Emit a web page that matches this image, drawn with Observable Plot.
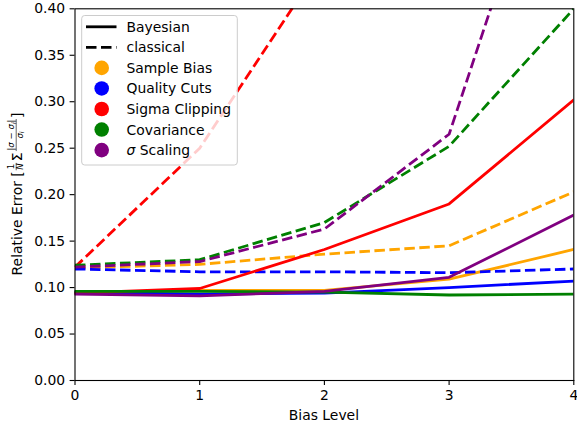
<!DOCTYPE html>
<html>
<head>
<meta charset="utf-8">
<script src="https://cdn.jsdelivr.net/npm/d3@7"></script>
<script src="https://cdn.jsdelivr.net/npm/@observablehq/plot@0.6"></script>
<style>
  html, body { margin: 0; padding: 0; background: white; }
  svg { display: block; }
</style>
</head>
<body>
<div id="chart"></div>
<script>
const biasLevels = [0, 1, 2, 3, 4];
const xTicks = [0, 1, 2, 3, 4];
const yTicks = [0, 0.05, 0.10, 0.15, 0.20, 0.25, 0.30, 0.35, 0.40];
const methods = ["Sample Bias", "Quality Cuts", "Sigma Clipping", "Covariance", "σ Scaling"];
const methodColors = ["orange", "blue", "red", "green", "purple"];
const styleLabels = ["Bayesian", "classical"];

const bayesianSampleBias    = [0.094, 0.097, 0.097, 0.109, 0.141];
const classicalSampleBias   = [0.121, 0.125, 0.136, 0.145, 0.203];
const bayesianQualityCuts   = [0.095, 0.093, 0.094, 0.100, 0.107];
const classicalQualityCuts  = [0.120, 0.117, 0.117, 0.116, 0.120];
const bayesianSigmaClipping = [0.094, 0.099, 0.141, 0.190, 0.302];
const classicalSigmaClipping= [0.122, 0.250, 0.453, 0.700, 1.000];
const bayesianCovariance    = [0.096, 0.096, 0.095, 0.092, 0.093];
const classicalCovariance   = [0.124, 0.130, 0.170, 0.252, 0.400];
const bayesianSigmaScaling  = [0.093, 0.091, 0.096, 0.111, 0.178];
const classicalSigmaScaling = [0.122, 0.128, 0.163, 0.265, 0.670];

const bayesianSeries = [bayesianSampleBias, bayesianQualityCuts, bayesianSigmaClipping, bayesianCovariance, bayesianSigmaScaling];
const classicalSeries = [classicalSampleBias, classicalQualityCuts, classicalSigmaClipping, classicalCovariance, classicalSigmaScaling];

const FONT = "DejaVu Sans";
const FS = 13.9;
const LW = 2.8;
const DASH = "10.5,4.5";

const toRows = (vals) => biasLevels.map((b, i) => ({bias: b, value: vals[i]}));

const lineMarks = [];
methods.forEach((m, i) => {
  lineMarks.push(Plot.line(toRows(bayesianSeries[i]), {x: "bias", y: "value", stroke: methodColors[i], strokeWidth: LW, clip: true, strokeLinejoin: "round"}));
  lineMarks.push(Plot.line(toRows(classicalSeries[i]), {x: "bias", y: "value", stroke: methodColors[i], strokeWidth: LW, strokeDasharray: DASH, strokeLinecap: "butt", clip: true}));
});

const chart = Plot.plot({
  width: 577,
  height: 423,
  marginLeft: 74.5,
  marginRight: 3.7,
  marginTop: 8.3,
  marginBottom: 43,
  style: {fontFamily: FONT, fontSize: FS + "px", background: "white", color: "black"},
  x: {domain: [0, 4], label: null},
  y: {domain: [0, 0.4], label: null},
  marks: [
    ...lineMarks,
    Plot.frame({stroke: "black", strokeWidth: 1.1}),
    Plot.axisX({ticks: xTicks, tickSize: 4.9, tickPadding: 4.9, tickFormat: d => String(d), label: null, strokeWidth: 1.1}),
    Plot.axisY({ticks: yTicks, tickSize: 4.9, tickPadding: 4.9, tickFormat: d3.format(".2f"), label: null, strokeWidth: 1.1})
  ]
});
document.getElementById("chart").appendChild(chart);

const svg = d3.select(chart);

// x axis label
svg.append("text")
  .attr("x", (74.5 + 573.3) / 2).attr("y", 420)
  .attr("text-anchor", "middle")
  .attr("font-family", FONT).attr("font-size", FS)
  .attr("fill", "black")
  .text("Bias Level");

// y axis label with math
const yl = svg.append("g").attr("font-family", FONT).attr("fill", "black").attr("text-anchor", "start");
const inner = yl.append("g");
let cx = 0;
const t1 = inner.append("text").attr("x", cx).attr("y", 0).attr("font-size", FS).text("Relative Error [");
cx += t1.node().getComputedTextLength() + 1;
// fraction 1/N
const fs2 = 8.6;
const n1 = inner.append("text").attr("y", -7.6).attr("font-size", fs2).attr("text-anchor", "middle").text("1");
const d1 = inner.append("text").attr("y", 0.8).attr("font-size", fs2).attr("text-anchor", "middle").attr("font-style", "italic").text("N");
let w1 = Math.max(n1.node().getComputedTextLength(), d1.node().getComputedTextLength()) + 1;
n1.attr("x", cx + w1 / 2); d1.attr("x", cx + w1 / 2);
inner.append("line").attr("x1", cx).attr("x2", cx + w1).attr("y1", -5.8).attr("y2", -5.8).attr("stroke", "black").attr("stroke-width", 0.6);
cx += w1 + 1.5;
const sig = inner.append("text").attr("x", cx).attr("y", 0).attr("font-size", FS).text("Σ");
cx += sig.node().getComputedTextLength() + 1.5;
// fraction |σ−σi| / σi
const n2 = inner.append("text").attr("y", -7.6).attr("font-size", fs2).attr("text-anchor", "middle");
n2.append("tspan").text("|");
n2.append("tspan").attr("font-style", "italic").text("σ");
n2.append("tspan").text(" − ");
n2.append("tspan").attr("font-style", "italic").text("σ");
n2.append("tspan").attr("font-style", "italic").attr("font-size", 6).attr("dy", 1.5).text("i");
n2.append("tspan").attr("dy", -1.5).text("|");
const d2 = inner.append("text").attr("y", 0.8).attr("font-size", fs2).attr("text-anchor", "middle");
d2.append("tspan").attr("font-style", "italic").text("σ");
d2.append("tspan").attr("font-style", "italic").attr("font-size", 6).attr("dy", 1.5).text("i");
let w2 = Math.max(n2.node().getComputedTextLength(), d2.node().getComputedTextLength()) + 1;
n2.attr("x", cx + w2 / 2); d2.attr("x", cx + w2 / 2);
inner.append("line").attr("x1", cx).attr("x2", cx + w2).attr("y1", -5.8).attr("y2", -5.8).attr("stroke", "black").attr("stroke-width", 0.6);
cx += w2 + 1;
const t3 = inner.append("text").attr("x", cx).attr("y", 0).attr("font-size", FS).text("]");
cx += t3.node().getComputedTextLength();
inner.attr("transform", `translate(${-cx / 2},0)`);
yl.attr("transform", `translate(22,194) rotate(-90)`);

// legend
const lg = svg.append("g").attr("font-family", FONT).attr("font-size", FS).attr("text-anchor", "start");
lg.append("rect").attr("x", 81.7).attr("y", 15.5).attr("width", 155.6).attr("height", 149.5)
  .attr("rx", 3).attr("fill", "white").attr("fill-opacity", 0.8).attr("stroke", "#cccccc").attr("stroke-width", 1);
const rowY = i => 26.8 + i * 20.55;
styleLabels.forEach((s, i) => {
  lg.append("line").attr("x1", 86).attr("x2", 116.5).attr("y1", rowY(i)).attr("y2", rowY(i))
    .attr("stroke", "black").attr("stroke-width", LW)
    .attr("stroke-dasharray", i === 1 ? DASH : null);
  lg.append("text").attr("x", 126.5).attr("y", rowY(i) + 5).attr("fill", "black").text(s);
});
methods.forEach((m, j) => {
  const i = j + 2;
  lg.append("circle").attr("cx", 101.7).attr("cy", rowY(i)).attr("r", 7.3).attr("fill", methodColors[j]);
  const t = lg.append("text").attr("x", 126.5).attr("y", rowY(i) + 5).attr("fill", "black");
  if (m.startsWith("σ")) {
    t.append("tspan").attr("font-style", "italic").text("σ");
    t.append("tspan").text(m.slice(1));
  } else {
    t.text(m);
  }
});
</script>
</body>
</html>
